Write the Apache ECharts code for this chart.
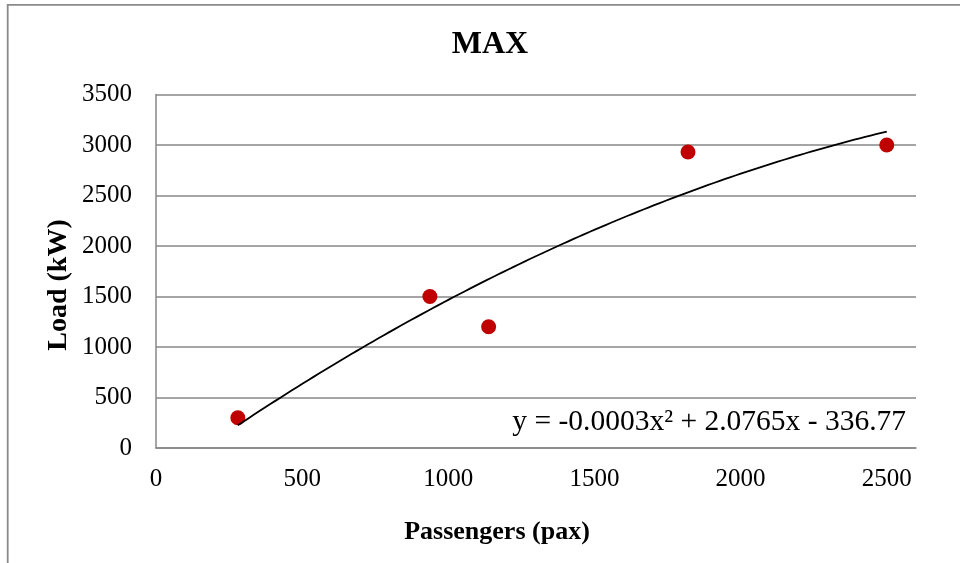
<!DOCTYPE html>
<html>
<head>
<meta charset="utf-8">
<script src="https://cdn.jsdelivr.net/npm/echarts@6/dist/echarts.min.js"></script>
<style>
  html, body { margin: 0; padding: 0; background: #fff; }
  #chart { width: 960px; height: 563px; }
</style>
</head>
<body>
<div id="chart"></div>
<script>
// Passenger counts and the maximum electrical load measured for each
const passengers = [280, 937, 1138, 1820, 2500];
const loadKW = [300, 1500, 1200, 2930, 3000];

const chartTitle = 'MAX';
const xAxisTitle = 'Passengers (pax)';
const yAxisTitle = 'Load (kW)';
const trendLabel = 'y = -0.0003x\u00B2 + 2.0765x - 336.77';

const FONT = "'Liberation Serif', 'Times New Roman', serif";
const GRID_GRAY = '#878787';

// Least-squares fit of a second-order polynomial y = a x^2 + b x + c
function quadraticFit(xs, ys) {
  let n = xs.length, s1 = 0, s2 = 0, s3 = 0, s4 = 0, t0 = 0, t1 = 0, t2 = 0;
  for (let i = 0; i < n; i++) {
    const x = xs[i], y = ys[i], x2 = x * x;
    s1 += x; s2 += x2; s3 += x2 * x; s4 += x2 * x2;
    t0 += y; t1 += x * y; t2 += x2 * y;
  }
  // Solve the 3x3 normal equations with Cramer's rule
  const M = [[s4, s3, s2], [s3, s2, s1], [s2, s1, n]];
  const R = [t2, t1, t0];
  const det3 = m => m[0][0] * (m[1][1] * m[2][2] - m[1][2] * m[2][1])
                  - m[0][1] * (m[1][0] * m[2][2] - m[1][2] * m[2][0])
                  + m[0][2] * (m[1][0] * m[2][1] - m[1][1] * m[2][0]);
  const D = det3(M);
  const col = k => M.map((row, i) => row.map((v, j) => (j === k ? R[i] : v)));
  return { a: det3(col(0)) / D, b: det3(col(1)) / D, c: det3(col(2)) / D };
}

const fit = quadraticFit(passengers, loadKW);
const xMin = Math.min.apply(null, passengers);
const xMax = Math.max.apply(null, passengers);
const trend = [];
const steps = 120;
for (let i = 0; i <= steps; i++) {
  const x = xMin + (xMax - xMin) * i / steps;
  trend.push([x, fit.a * x * x + fit.b * x + fit.c]);
}

const points = passengers.map((p, i) => [p, loadKW[i]]);

const chart = echarts.init(document.getElementById('chart'), null, { renderer: 'canvas' });
chart.setOption({
  animation: false,
  backgroundColor: '#ffffff',
  title: {
    text: chartTitle,
    left: 485,
    top: 24,
    textAlign: 'center',
    textStyle: { fontFamily: FONT, fontSize: 32, fontWeight: 'bold', color: '#000' }
  },
  grid: { left: 156, right: 44, top: 94.5, bottom: 115, containLabel: false },
  xAxis: {
    type: 'value',
    min: 0,
    max: 2600,
    interval: 500,
    axisLine: { show: true, lineStyle: { color: GRID_GRAY, width: 1.5 } },
    axisTick: { show: false },
    splitLine: { show: false },
    axisLabel: {
      showMaxLabel: false,
      margin: 19,
      fontFamily: FONT, fontSize: 25, color: '#000',
      formatter: v => (v % 500 === 0 ? String(v) : '')
    }
  },
  yAxis: {
    type: 'value',
    min: 0,
    max: 3500,
    interval: 500,
    axisLine: { show: true, lineStyle: { color: GRID_GRAY, width: 1.5 } },
    axisTick: { show: false },
    splitLine: { show: true, lineStyle: { color: GRID_GRAY, width: 1.5 } },
    axisLabel: { margin: 24, fontFamily: FONT, fontSize: 25, color: '#000',
                 formatter: v => String(v) }
  },
  graphic: [
    {
      type: 'rect', silent: true, z: -10,
      shape: { x: 7.7, y: 4.8, width: 1200, height: 1000 },
      style: { fill: 'none', stroke: '#8a8a8a', lineWidth: 1.8 }
    },
    {
      type: 'text', x: 497, y: 532,
      style: { text: xAxisTitle, fontFamily: FONT, fontSize: 26, fontWeight: 'bold', fill: '#000',
               align: 'center', verticalAlign: 'middle' }
    },
    {
      type: 'text', x: 59, y: 285, rotation: Math.PI / 2,
      style: { text: yAxisTitle, fontFamily: FONT, fontSize: 28, fontWeight: 'bold', fill: '#000',
               align: 'center', verticalAlign: 'middle' }
    },
    {
      type: 'text', x: 906, y: 422,
      style: { text: trendLabel, fontFamily: FONT, fontSize: 29.5, fill: '#000',
               align: 'right', verticalAlign: 'middle' }
    }
  ],
  series: [
    {
      name: 'Load',
      type: 'scatter',
      data: points,
      symbol: 'circle',
      symbolSize: 15,
      itemStyle: { color: '#C00000', opacity: 1 },
      z: 2
    },
    {
      name: 'Poly. (Load)',
      type: 'line',
      data: trend,
      showSymbol: false,
      smooth: false,
      lineStyle: { color: '#000', width: 1.8 },
      z: 3
    }
  ]
});
</script>
</body>
</html>
